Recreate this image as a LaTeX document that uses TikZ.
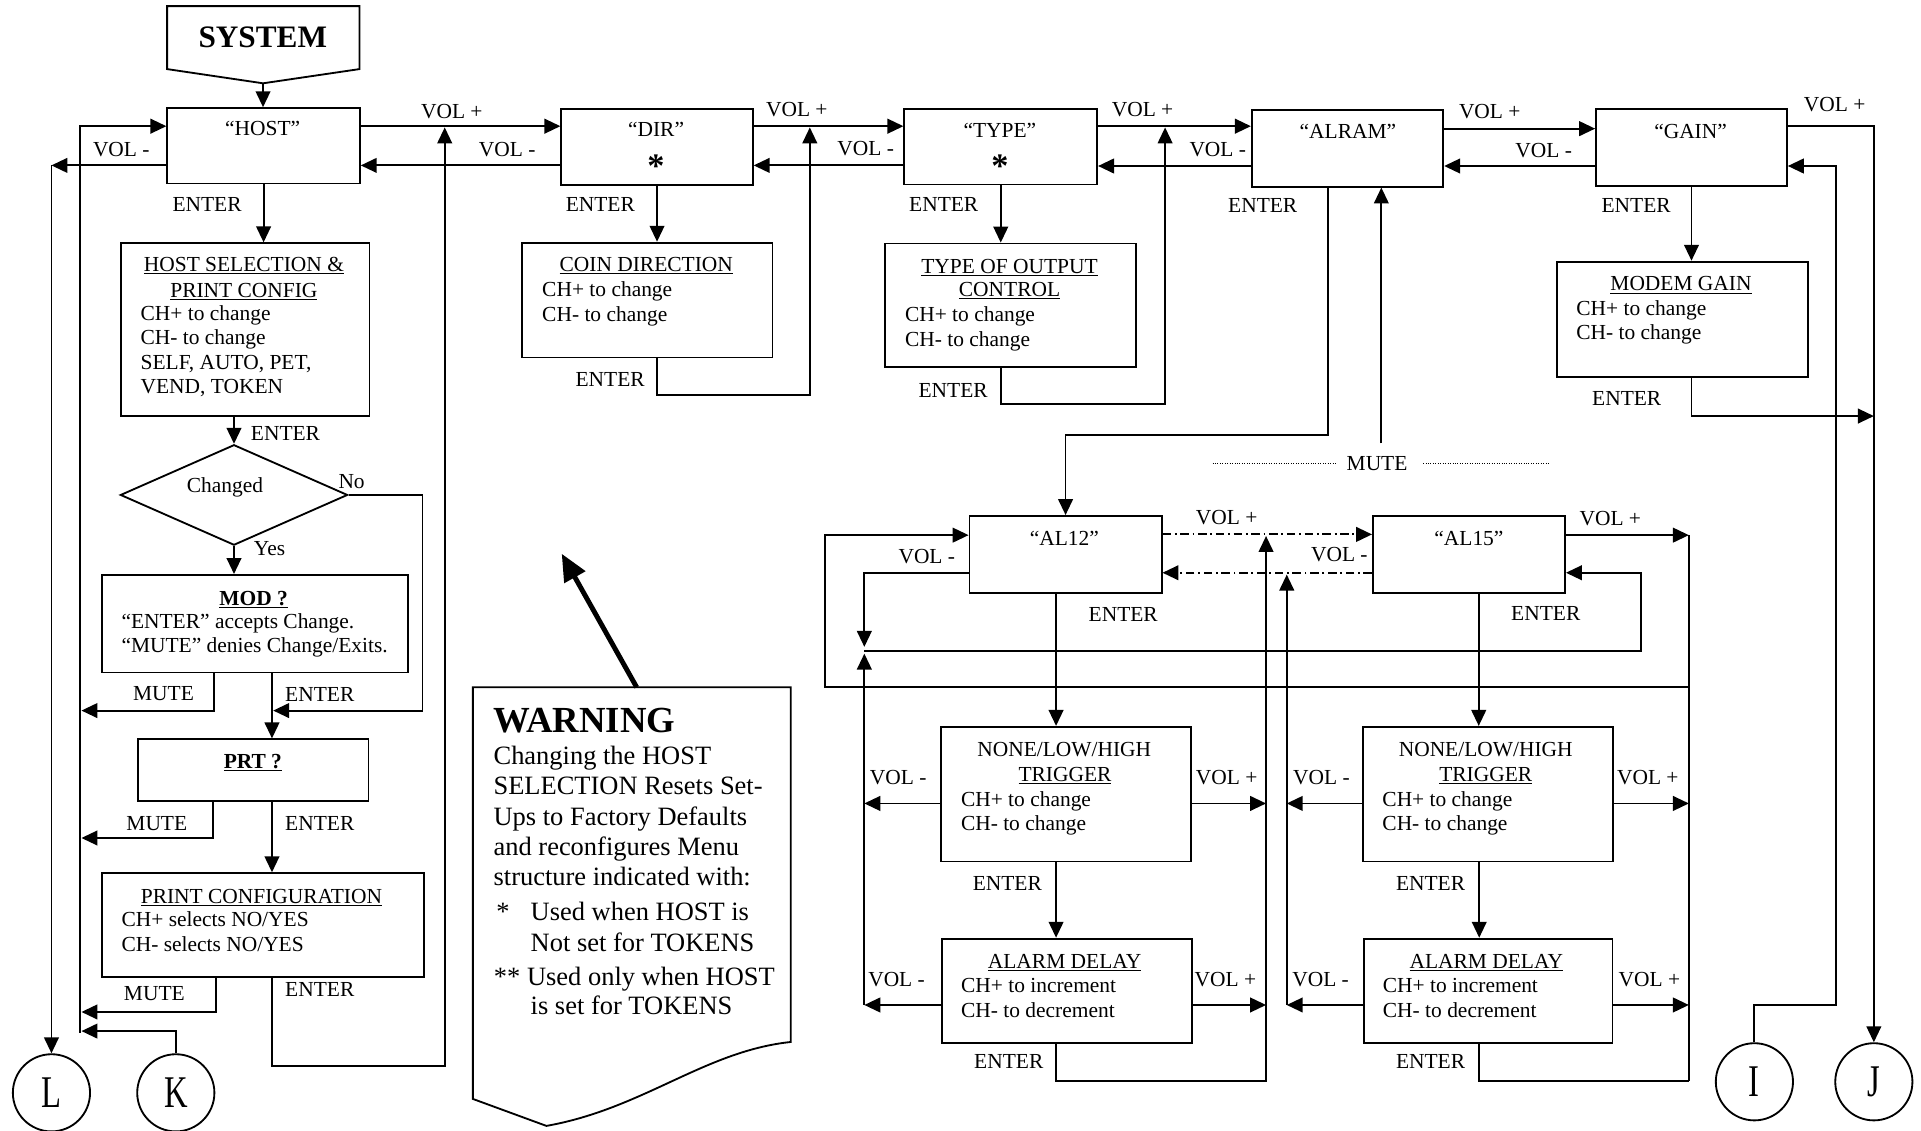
\documentclass[tikz,border=0pt]{standalone}
\usepackage{fontspec}
\setmainfont{Liberation Serif}
\usepackage{graphicx}
\usetikzlibrary{arrows.meta,shapes.geometric}
\tikzset{
 lw/.style={line width=1.5pt},
 arr/.style={line width=1.5pt, -{Triangle[length=13pt,width=12pt]}},
 bx/.style={draw, line width=1.5pt, inner sep=0pt, anchor=north west},
 lbl/.style={inner sep=0pt, font=\fontsize{17.5}{20}\selectfont},
 hd/.style={lbl, anchor=base},
 bd/.style={lbl, anchor=base west},
 wtb/.style={inner sep=0pt, anchor=base west, font=\fontsize{21.6}{24.75}\selectfont},
 ddash/.style={dash pattern=on 7pt off 3pt on 1.5pt off 3pt},
 mdot/.style={line width=0.7pt, dash pattern=on 0.7pt off 1.3pt},
 circ/.style={draw, circle, line width=1.5pt, minimum size=63pt, inner sep=0pt},
 star/.style={inner sep=0pt, font=\fontsize{28}{28}\selectfont\bfseries},
}
\newcommand\mybox[5]{\node[bx, minimum width={#4-#2}, minimum height={#5-#3}] (#1) at (#2,#3) {};}
\newcommand\blines[1]{\begin{tabular}[t]{@{}l@{}}#1\end{tabular}}
\newcommand\cl[1]{\scalebox{0.72}[1]{\fontsize{37}{37}\selectfont #1}}
\begin{document}
\begin{tikzpicture}[x=1pt,y=-1pt]
\fill[white] (0,0) rectangle (1568,923);
\useasboundingbox (0,0) rectangle (1568,923);

% ---------- SYSTEM ----------
\node[inner sep=0pt, minimum width=156.6pt, minimum height=51pt, anchor=north west] (sys) at (136.4,5) {};
\coordinate (systip) at (214.7,68);
\draw[lw] (sys.north west) -- (sys.north east) -- (sys.south east) -- (systip) -- (sys.south west) -- cycle;
\node[inner sep=0pt, font=\fontsize{25.5}{26}\selectfont\bfseries] (systxt) at (214.5,30.5) {SYSTEM};

% ---------- boxes ----------
\mybox{host}{135.8}{87.5}{293}{149}
\mybox{dir}{457.4}{88.4}{613.7}{150.2}
\mybox{typ}{737.4}{88.4}{894.8}{149.8}
\mybox{alram}{1021}{89.3}{1177.3}{151.6}
\mybox{gain}{1302}{88.5}{1457.8}{151}
\mybox{hostsel}{97.7}{197.8}{300.8}{338.8}
\mybox{mod}{82.5}{468.5}{332.3}{548.2}
\mybox{prt}{112}{602.7}{300}{653}
\mybox{pcfg}{82.5}{712}{345.4}{796.4}
\mybox{coin}{425.5}{197.3}{629.8}{291}
\mybox{tout}{721.6}{198}{926.6}{298.5}
\mybox{modem}{1269.9}{212.8}{1474.8}{307}
\mybox{al12}{790.6}{420.4}{947.4}{483.6}
\mybox{al15}{1119.9}{420.4}{1276.7}{483.6}
\mybox{trigA}{767.3}{592.5}{971.3}{702.5}
\mybox{trigB}{1111.5}{592.5}{1315.8}{702.5}
\mybox{delA}{768}{765.4}{972.2}{850.3}
\mybox{delB}{1112.3}{765.4}{1315.4}{850.3}
\node[draw, diamond, line width=1.5pt, minimum width=185.5pt, minimum height=82pt, inner sep=0pt] (chg) at (191,404) {};

% circles
\node[circ] (L) at (42,892) {\cl{L}};
\node[circ] (K) at (143.5,892) {\cl{K}};
\node[circ] (I) at (1432,883) {\cl{I}};
\node[circ] (J) at (1529.5,883) {\cl{J}};

% ---------- box texts ----------
\node[lbl] (hostt) at (214.4,104.8) {“HOST”};
\node[lbl] (dirt) at (535.5,106) {“DIR”};
\node[star] (dirs) at (535.5,135.5) {*};
\node[lbl] (typt) at (816.1,106) {“TYPE”};
\node[star] (typs) at (816.1,135.5) {*};
\node[lbl] (alramt) at (1100.2,107.5) {“ALRAM”};
\node[lbl] (gaint) at (1379.9,107) {“GAIN”};
\node[lbl] (al12t) at (868.7,439.5) {“AL12”};
\node[lbl] (al15t) at (1199,439.5) {“AL15”};

\node[hd] (hs1) at (199.1,221.5) {\underline{HOST SELECTION \&}};
\node[hd] (hs2) at (199.1,242.5) {\underline{PRINT CONFIG}};
\node[bd] (hsb) at (114.6,261.5) {\blines{CH+ to change\\CH- to change\\SELF, AUTO, PET,\\VEND, TOKEN}};

\node[hd] (m1) at (207,493.9) {\bfseries\underline{MOD ?}};
\node[bd] (mb) at (99,512.9) {\blines{“ENTER” accepts Change.\\“MUTE” denies Change/Exits.}};
\node[hd] (p1) at (206.4,627.2) {\bfseries\underline{PRT ?}};
\node[hd] (pc1) at (213.4,737.5) {\underline{PRINT CONFIGURATION}};
\node[bd] (pcb) at (99,756.5) {\blines{CH+ selects NO/YES\\CH- selects NO/YES}};

\node[hd] (c1) at (527.5,221.8) {\underline{COIN DIRECTION}};
\node[bd] (cb) at (442.4,242.2) {\blines{CH+ to change\\CH- to change}};
\node[hd] (to1) at (824,223.2) {\underline{TYPE OF OUTPUT}};
\node[hd] (to2) at (824,242.2) {\underline{CONTROL}};
\node[bd] (tob) at (738.5,262.6) {\blines{CH+ to change\\CH- to change}};
\node[hd] (mg1) at (1372.1,237.4) {\underline{MODEM GAIN}};
\node[bd] (mgb) at (1286.5,257.2) {\blines{CH+ to change\\CH- to change}};

\node[hd] (ta1) at (868.7,617.2) {NONE/LOW/HIGH};
\node[hd] (ta2) at (869.3,637.6) {\underline{TRIGGER}};
\node[bd] (tab) at (784.2,658) {\blines{CH+ to change\\CH- to change}};
\node[hd] (tb1) at (1212.7,617.2) {NONE/LOW/HIGH};
\node[hd] (tb2) at (1212.7,637.6) {\underline{TRIGGER}};
\node[bd] (tbb) at (1128.2,658) {\blines{CH+ to change\\CH- to change}};
\node[hd] (da1) at (869,790.5) {\underline{ALARM DELAY}};
\node[bd] (dab) at (784.3,810.3) {\blines{CH+ to increment\\CH- to decrement}};
\node[hd] (db1) at (1213.2,790.5) {\underline{ALARM DELAY}};
\node[bd] (dbb) at (1128.6,810.3) {\blines{CH+ to increment\\CH- to decrement}};

\node[lbl] (chgt) at (183.6,397.5) {Changed};
\node[lbl] (no) at (287,393) {No};
\node[lbl] (yes) at (220,447.6) {Yes};

% ---------- labels ----------
\node[lbl] (l1) at (99,122.4) {VOL -};
\node[lbl] (l2) at (368.8,91) {VOL +};
\node[lbl] (l3) at (414,122.4) {VOL -};
\node[lbl] (l4) at (169,166.5) {ENTER};
\node[lbl] (l5) at (233,353.7) {ENTER};
\node[lbl] (l6) at (133.5,566.5) {MUTE};
\node[lbl] (l7) at (261,566.5) {ENTER};
\node[lbl] (l8) at (128,672) {MUTE};
\node[lbl] (l9) at (261,672) {ENTER};
\node[lbl] (l10) at (126,811) {MUTE};
\node[lbl] (l11) at (261,807.3) {ENTER};
\node[lbl] (l12) at (650.4,89.8) {VOL +};
\node[lbl] (l13) at (706.6,121) {VOL -};
\node[lbl] (l14) at (490,167.3) {ENTER};
\node[lbl] (l15) at (498,309.4) {ENTER};
\node[lbl] (l16) at (770.3,167.3) {ENTER};
\node[lbl] (l17) at (778,318.4) {ENTER};
\node[lbl] (l18) at (932.6,89.8) {VOL +};
\node[lbl] (l19) at (994,122) {VOL -};
\node[lbl] (l20) at (1030.7,167.4) {ENTER};
\node[lbl] (l21) at (1216,91.2) {VOL +};
\node[lbl] (l22) at (1260,122.5) {VOL -};
\node[lbl] (l23) at (1335.5,167.4) {ENTER};
\node[lbl] (l24) at (1327.8,325.2) {ENTER};
\node[lbl] (l25) at (1497.5,85.7) {VOL +};
\node[lbl] (mute) at (1124,378.8) {MUTE};
\node[lbl] (l26) at (1001.3,422.3) {VOL +};
\node[lbl] (l27) at (756.5,454.4) {VOL -};
\node[lbl] (l28) at (916.8,501.2) {ENTER};
\node[lbl] (l29) at (1093.2,453) {VOL -};
\node[lbl] (l30) at (1314.4,423.1) {VOL +};
\node[lbl] (l31) at (1261.7,500.7) {ENTER};
\node[lbl] (l32) at (733.2,634.6) {VOL -};
\node[lbl] (l33) at (1001.3,634.6) {VOL +};
\node[lbl] (l34) at (822.2,721) {ENTER};
\node[lbl] (l35) at (1078.6,634.6) {VOL -};
\node[lbl] (l36) at (1345,634.6) {VOL +};
\node[lbl] (l37) at (1167.7,721) {ENTER};
\node[lbl] (l38) at (731.8,799.4) {VOL -};
\node[lbl] (l39) at (1000.2,799.4) {VOL +};
\node[lbl] (l40) at (823.4,866.6) {ENTER};
\node[lbl] (l41) at (1077.9,799.4) {VOL -};
\node[lbl] (l42) at (1346.3,799.4) {VOL +};
\node[lbl] (l43) at (1167.7,866.6) {ENTER};

% ---------- connectors: left column ----------
\draw[arr] (systip) -- (systip |- host.north);
\draw[arr] (host.west |- 0,135) -- (L.north |- 0,135);
\draw[arr] (L.north |- 0,135) -- (L.north);
\coordinate (lb) at (65.6,843);
\draw[arr] (lb) -- (65.6,103) -- (host.west |- 0,103);
\draw[arr] (host.south) -- (host.south |- hostsel.north);
\draw[arr] (hostsel.south -| chg.north) -- (chg.north);
\draw[arr] (chg.east) -- (344.8,404) |- (223,580);
\draw[arr] (chg.south) -- (chg.south |- mod.north);
\draw[arr] (mod.south -| 175,0) |- (66.5,580);
\draw[arr] (mod.south -| 222,0) -- (prt.north -| 222,0);
\draw[arr] (prt.south -| 174,0) |- (66.5,684);
\draw[arr] (prt.south -| 222,0) -- (pcfg.north -| 222,0);
\draw[arr] (pcfg.south -| 176.4,0) |- (66.5,826);
\draw[arr] (pcfg.south -| 222,0) |- (363,870) -- (363,104);
\draw[arr] (K.north) |- (66.5,841.6);

% ---------- top chain ----------
\draw[arr] (host.east |- 0,103) -- (dir.west |- 0,103);
\draw[arr] (dir.west |- 0,135) -- (host.east |- 0,135);
\draw[arr] (dir.east |- 0,103) -- (typ.west |- 0,103);
\draw[arr] (typ.west |- 0,135) -- (dir.east |- 0,135);
\draw[arr] (typ.east |- 0,103) -- (alram.west |- 0,103);
\draw[arr] (alram.west |- 0,135.5) -- (typ.east |- 0,135.5);
\draw[arr] (alram.east |- 0,105) -- (gain.west |- 0,105);
\draw[arr] (gain.west |- 0,135.5) -- (alram.east |- 0,135.5);

\draw[arr] (dir.south) -- (dir.south |- coin.north);
\draw[arr] (coin.south -| dir.south) |- (661,322.4) -- (661,104);
\draw[arr] (typ.south) -- (typ.south |- tout.north);
\draw[arr] (tout.south -| typ.south) |- (951,329.8) -- (951,104);

\draw[arr] (alram.south -| 1084,0) |- (al12.north |- 0,355) -- (al12.north);
\coordinate (mutetop) at (1127.5,362);
\draw[arr] (mutetop) -- (alram.south -| mutetop);
\draw[mdot] (989.7,378.5) -- (1091.5,378.5);
\draw[mdot] (1161.6,378.5) -- (1264.4,378.5);

\draw[arr] (gain.south) -- (gain.south |- modem.north);
\draw[arr] (modem.south -| gain.south) |- (J.north |- 0,339.6);
\draw[arr] (gain.east |- 0,103) -| (J.north);
\draw[arr] (I.north) |- (1498.5,820) -- (1498.5,135.5) -- (gain.east |- 0,135.5);

% ---------- alarm section ----------
\coordinate (jA1) at (705.5,820.3);
\coordinate (jA2) at (705.5,531.2);
\coordinate (jB1) at (1033.4,882.1);
\coordinate (jC1) at (1050.3,820.3);
\coordinate (jD1) at (1378.5,436.8);
\coordinate (jD2) at (1378.5,882.1);
\coordinate (jD3) at (1378.5,561);

\draw[arr,ddash] (al12.east |- 0,436.2) -- (al15.west |- 0,436.2);
\draw[arr,ddash] (al15.west |- 0,467.5) -- (al12.east |- 0,467.5);
\draw[arr] (al15.east |- jD1) -- (jD1);
\draw[lw] (jD1) -- (jD2);
\draw[arr] (jD3) -| (673.4,436.8) -- (al12.west |- 0,436.8);
\draw[arr] (al12.west |- 0,468) -| (705.5,528);
\draw[arr] (jA2) -| (1339.5,467.5) -- (al15.east |- 0,467.5);
\draw[arr] (jA1) -- (705.5,533.5);
\draw[arr] (jC1) -- (1050.3,469);
\draw[arr] (delA.south -| 862,0) |- (jB1) -- (1033.4,437.5);
\draw[lw] (delB.south -| 1207.4,0) |- (jD2);

\draw[arr] (al12.south -| 862,0) -- (trigA.north -| 862,0);
\draw[arr] (al15.south -| 1207,0) -- (trigB.north -| 1207,0);
\draw[arr] (trigA.south -| 862,0) -- (delA.north -| 862,0);
\draw[arr] (trigB.south -| 1207.4,0) -- (delB.north -| 1207.4,0);

\draw[arr] (trigA.west |- 0,655.8) -- (jA1 |- 0,655.8);
\draw[arr] (trigA.east |- 0,655.8) -- (jB1 |- 0,655.8);
\draw[arr] (trigB.west |- 0,655.8) -- (jC1 |- 0,655.8);
\draw[arr] (trigB.east |- 0,655.8) -- (jD1 |- 0,655.8);
\draw[arr] (delA.west |- jA1) -- (jA1);
\draw[arr] (delA.east |- jA1) -- (jB1 |- jA1);
\draw[arr] (delB.west |- jC1) -- (jC1);
\draw[arr] (delB.east |- jC1) -- (jD1 |- jC1);

% ---------- WARNING ----------
\coordinate (wtl) at (386,561);
\coordinate (wtr) at (645.4,561);
\draw[lw] (wtl) -- (wtr) -- (645.4,850.5) .. controls (575,858) and (525,905) .. (446,919) -- (386,897) -- cycle;
\coordinate (wtail) at (519.7,561);
\coordinate (whead) at (458.5,452);
\draw[line width=4pt, -{Triangle[length=22pt,width=19pt]}] (wtail) -- (whead);
\node[inner sep=0pt, anchor=base west, font=\fontsize{30}{30}\selectfont\bfseries] (wt) at (402.7,597.8) {WARNING};
\node[wtb] (wb) at (402.7,624.1) {\blines{Changing the HOST\\SELECTION Resets Set-\\Ups to Factory Defaults\\and reconfigures Menu\\structure indicated with:}};
\node[wtb] (ws1) at (405,751.5) {*};
\node[wtb] (ws1t) at (433,751.5) {\blines{Used when HOST is\\Not set for TOKENS}};
\node[wtb] (ws2) at (403,804) {**};
\node[wtb] (ws2t) at (430,804) {Used only when HOST};
\node[wtb] (ws3t) at (433,828) {is set for TOKENS};
\end{tikzpicture}
\end{document}
